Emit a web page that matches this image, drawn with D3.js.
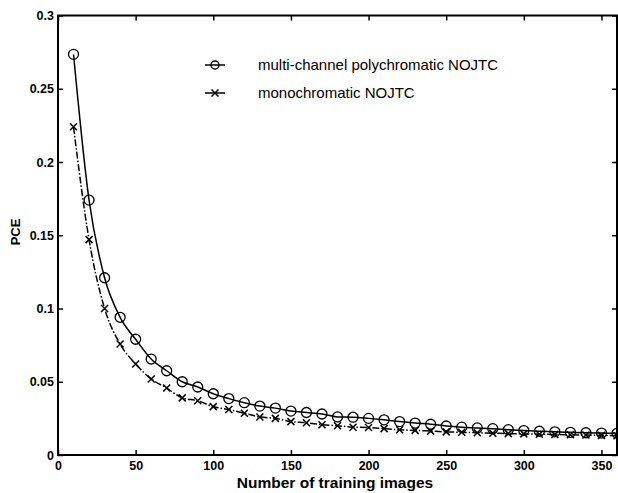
<!DOCTYPE html>
<html><head><meta charset="utf-8">
<script src="https://cdn.jsdelivr.net/npm/d3@7"></script>
<style>body{margin:0;background:#fff}svg{display:block}</style>
</head><body>
<script>
const xValues = [10,20,30,40,50,60,70,80,90,100,110,120,130,140,150,160,170,180,190,200,210,220,230,240,250,260,270,280,290,300,310,320,330,340,350,360];
const polyPCE = [0.2735,0.174,0.121,0.094,0.079,0.0655,0.0575,0.050,0.0464,0.0418,0.0385,0.0357,0.0334,0.032,0.030,0.029,0.028,0.026,0.0258,0.025,0.024,0.0228,0.0218,0.021,0.0198,0.019,0.0185,0.018,0.0173,0.0167,0.0162,0.0158,0.0155,0.0152,0.015,0.0148];
const monoPCE = [0.224,0.147,0.100,0.0758,0.0621,0.0519,0.0457,0.039,0.037,0.033,0.031,0.0285,0.026,0.025,0.0228,0.022,0.0207,0.020,0.019,0.0188,0.018,0.0172,0.0168,0.0163,0.0158,0.0155,0.0152,0.0149,0.0146,0.0144,0.0142,0.014,0.0138,0.0136,0.0134,0.0132];
const xTicks = [0,50,100,150,200,250,300,350];
const yTicks = [0,0.05,0.1,0.15,0.2,0.25,0.3];
const seriesNames = ["multi-channel polychromatic NOJTC","monochromatic NOJTC"];

const W=618,H=493;
const svg=d3.select("body").append("svg").attr("width",W).attr("height",H);
const L=58,R=617,T=15.5,B=455;
const x=d3.scaleLinear().domain([0,360]).range([L,R]);
const y=d3.scaleLinear().domain([0,0.3]).range([B,T]);
const font="Arial, 'Liberation Sans', sans-serif";

// frame
svg.append("rect").attr("x",L).attr("y",T).attr("width",R-L).attr("height",B-T)
  .attr("fill","none").attr("stroke","#000").attr("stroke-width",2);

// axes
const xb=svg.append("g").attr("transform",`translate(0,${B})`)
  .call(d3.axisBottom(x).tickValues(xTicks).tickSize(-5).tickPadding(6).tickFormat(d3.format("d")));
const xt=svg.append("g").attr("transform",`translate(0,${T})`)
  .call(d3.axisTop(x).tickValues(xTicks).tickSize(-5).tickFormat(""));
const yl=svg.append("g").attr("transform",`translate(${L},0)`)
  .call(d3.axisLeft(y).tickValues(yTicks).tickSize(-5).tickPadding(4).tickFormat(d=>d===0?"0":String(d)));
const yr=svg.append("g").attr("transform",`translate(${R},0)`)
  .call(d3.axisRight(y).tickValues(yTicks).tickSize(-5).tickFormat(""));
[xb,xt,yl,yr].forEach(g=>{
  g.select(".domain").remove();
  g.selectAll(".tick line").attr("stroke","#000").attr("stroke-width",1.5);
  g.selectAll("text").attr("font-family",font).attr("font-weight","bold").attr("font-size",12.5).attr("fill","#000");
});

// lines
const line=d3.line().x((d,i)=>x(xValues[i])).y(d=>y(d)).curve(d3.curveMonotoneX);
svg.append("path").datum(polyPCE).attr("d",line).attr("fill","none").attr("stroke","#000").attr("stroke-width",1.5);
svg.append("path").datum(monoPCE).attr("d",line).attr("fill","none").attr("stroke","#000").attr("stroke-width",1.5)
  .attr("stroke-dasharray","7,2,1.5,2");

// markers
svg.append("g").selectAll("circle").data(polyPCE).join("circle")
  .attr("cx",(d,i)=>x(xValues[i])).attr("cy",d=>y(d)).attr("r",5)
  .attr("fill","none").attr("stroke","#000").attr("stroke-width",1.3);
const cs=3.5;
svg.append("g").selectAll("path").data(monoPCE).join("path")
  .attr("d",(d,i)=>{const cx=x(xValues[i]),cy=y(d);return `M${cx-cs},${cy-cs}L${cx+cs},${cy+cs}M${cx-cs},${cy+cs}L${cx+cs},${cy-cs}`;})
  .attr("stroke","#000").attr("stroke-width",1.5);

// legend
const lg=svg.append("g");
const rows=[65,93];
rows.forEach((ry,i)=>{
  lg.append("line").attr("x1",205).attr("x2",225).attr("y1",ry).attr("y2",ry).attr("stroke","#000").attr("stroke-width",1.5);
  if(i===0) lg.append("circle").attr("cx",215).attr("cy",ry).attr("r",4).attr("fill","none").attr("stroke","#000").attr("stroke-width",1.3);
  else lg.append("path").attr("d",`M211.5,${ry-3.5}L218.5,${ry+3.5}M211.5,${ry+3.5}L218.5,${ry-3.5}`).attr("stroke","#000").attr("stroke-width",1.5);
  lg.append("text").attr("x",258).attr("y",ry+5).text(seriesNames[i])
    .attr("font-family",font).attr("font-size",15).attr("fill","#000");
});

// titles
svg.append("text").attr("x",335).attr("y",488).attr("text-anchor","middle")
  .attr("font-family",font).attr("font-weight","bold").attr("font-size",15.5).text("Number of training images");
svg.append("text").attr("transform","translate(20,232) rotate(-90)").attr("text-anchor","middle")
  .attr("font-family",font).attr("font-weight","bold").attr("font-size",13).text("PCE");
</script>
</body></html>
